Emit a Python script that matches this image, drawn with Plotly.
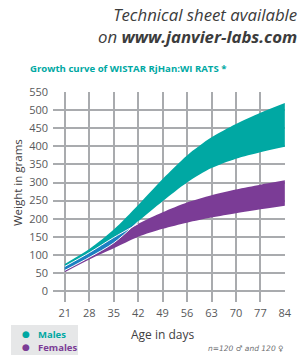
import numpy as np
import plotly.graph_objects as go

# ---- data ----
days = [21, 28, 35, 42, 49, 56, 63, 70, 77, 84]
male_upper = [75, 116, 170, 238, 310, 375, 425, 462, 493, 520]
male_lower = [57, 93, 133, 192, 248, 300, 340, 366, 384, 399]
female_upper = [68, 106, 148, 186, 218, 245, 265, 281, 294, 306]
female_lower = [52, 87, 118, 150, 172, 189, 203, 215, 226, 236]
x_ticks = days
y_ticks = list(range(0, 551, 50))

TEAL = "#00a8a3"
PURPLE = "#7b3c96"
BLUE = "#1c7fc2"
GRID = "#a9abae"
TXT = "#58595b"
FONT = "Open Sans"

fig = go.Figure()
common = dict(mode="lines", line=dict(width=0, shape="spline", smoothing=0.8),
              hoverinfo="skip", showlegend=False)

# female band
fig.add_trace(go.Scatter(x=days, y=female_lower, **common))
fig.add_trace(go.Scatter(x=days, y=female_upper, fill="tonexty",
                         fillcolor=PURPLE, **common))
# male band
fig.add_trace(go.Scatter(x=days, y=male_lower, **common))
fig.add_trace(go.Scatter(x=days, y=male_upper, fill="tonexty",
                         fillcolor=TEAL, **common))
# overlap of both bands (early ages)
ov_days = [d for d in days if d <= 42]
n = len(ov_days)
ov_low = male_lower[:n]
ov_up = list(np.maximum(male_lower[:n], female_upper[:n]))
fig.add_trace(go.Scatter(x=ov_days, y=ov_low, **common))
fig.add_trace(go.Scatter(x=ov_days, y=ov_up, fill="tonexty",
                         fillcolor=BLUE, **common))
# white separating lines
white = dict(mode="lines", line=dict(width=1, color="white", shape="spline",
                                     smoothing=0.8),
             hoverinfo="skip", showlegend=False)
fig.add_trace(go.Scatter(x=ov_days, y=female_upper[:n], **white))
fig.add_trace(go.Scatter(x=ov_days, y=male_lower[:n], **white))

L, R, T, B = 53, 18, 92, 53
W, H = 303, 355
pw, ph = W - L - R, H - T - B


def px(x):
    return (x - L) / pw


def py(y):
    return (H - B - y) / ph


fig.update_xaxes(range=[17.6, 84.05], tickvals=x_ticks, showgrid=True,
                 gridcolor=GRID, gridwidth=1.5, zeroline=False, showline=False,
                 ticks="", tickfont=dict(family=FONT, size=11, color=TXT),
                 ticklabelstandoff=3)
fig.update_yaxes(range=[-30.4, 550.3], tickvals=y_ticks, showgrid=True,
                 gridcolor=GRID, gridwidth=1.5, zeroline=False, showline=False,
                 ticks="", tickfont=dict(family=FONT, size=11, color=TXT),
                 ticklabelstandoff=4)

ann = []
ann.append(dict(text="<i>Technical sheet available<br>on <b>www.janvier-labs.com</b></i>",
                x=px(299), y=py(25), xanchor="right", yanchor="middle",
                align="right",
                font=dict(family=FONT, size=16.8, color="#3c3c3c")))
ann.append(dict(text="<b>Growth curve of WISTAR RjHan:WI RATS *</b>",
                x=px(28), y=py(68), xanchor="left", yanchor="middle",
                font=dict(family=FONT, size=9.6, color=TEAL)))
ann.append(dict(text="Weight in grams", x=px(17), y=py(183), textangle=-90,
                xanchor="center", yanchor="middle",
                font=dict(family=FONT, size=11.5, color="#414042")))
ann.append(dict(text="Age in days", x=px(162), y=py(334), xanchor="center",
                yanchor="middle",
                font=dict(family=FONT, size=12, color="#414042")))
ann.append(dict(text="<i>n=120 ♂ and 120 ♀</i>", x=px(286), y=py(348),
                xanchor="right", yanchor="middle",
                font=dict(family="DejaVu Sans", size=7.5, color="#6d6e71")))
# legend
ann.append(dict(text="●", x=px(26), y=py(334), xanchor="center", yanchor="middle",
                font=dict(family="DejaVu Sans", size=9, color=TEAL)))
ann.append(dict(text="●", x=px(26), y=py(347), xanchor="center", yanchor="middle",
                font=dict(family="DejaVu Sans", size=9, color=PURPLE)))
ann.append(dict(text="<b>Males</b>", x=px(36), y=py(334), xanchor="left",
                yanchor="middle", font=dict(family=FONT, size=9.5, color=TEAL)))
ann.append(dict(text="<b>Females</b>", x=px(36), y=py(347), xanchor="left",
                yanchor="middle", font=dict(family=FONT, size=9.5, color=PURPLE)))
for a in ann:
    a.update(xref="paper", yref="paper", showarrow=False)

fig.update_layout(
    width=W, height=H, margin=dict(l=L, r=R, t=T, b=B),
    paper_bgcolor="white", plot_bgcolor="white",
    annotations=ann,
    shapes=[dict(type="rect", xref="paper", yref="paper",
                 x0=px(11), x1=px(78), y0=py(355), y1=py(325),
                 fillcolor="#e6e7e8", line=dict(width=0), layer="below")],
)

fig.write_html("out.html", config={"displayModeBar": False},
               post_script="document.body.style.margin='0';"
                           "document.body.style.overflow='hidden';")
